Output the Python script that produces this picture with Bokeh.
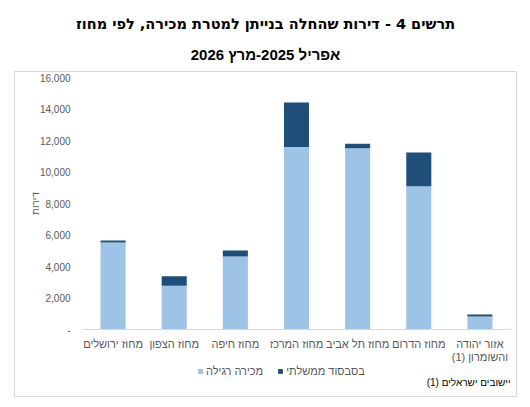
import math
from bokeh.plotting import figure
from bokeh.models import Range1d, Label, Legend, LegendItem, Title
from bokeh.core.properties import value
from bokeh.embed import file_html
from bokeh.resources import INLINE

# ---- data ----
categories = ["מחוז ירושלים", "מחוז הצפון", "מחוז חיפה", "מחוז המרכז",
              "מחוז תל אביב", "מחוז הדרום", "אזור יהודה והשומרון (1)"]
category_labels = ["מחוז ירושלים", "מחוז הצפון", "מחוז חיפה", "מחוז המרכז",
                   "מחוז תל אביב", "מחוז הדרום", "אזור יהודה\n\u200fוהשומרון (1)\u200f"]
regular_sale = [5520, 2770, 4640, 11580, 11510, 9100, 830]
gov_subsidy = [130, 615, 375, 2830, 280, 2140, 120]
series_names = ["מכירה רגילה", "בסבסוד ממשלתי"]
y_ticks = [0, 2000, 4000, 6000, 8000, 10000, 12000, 14000, 16000]
y_tick_labels = ["-", "2,000", "4,000", "6,000", "8,000", "10,000", "12,000", "14,000", "16,000"]
title_line1 = "תרשים 4 - דירות שהחלה בנייתן למטרת מכירה, לפי מחוז"
title_line2 = "אפריל 2025-מרץ 2026"
y_title = "דירות"
footnote = "\u200fיישובים ישראלים (1)\u200f"

LIGHT = "#9dc3e6"
DARK = "#1f4e79"
GRAY = "#595959"
EDGE = "#d9d9d9"
FONT = "Liberation Sans"

# ---- layout (pixels) ----
W, H = 530, 407
BOX_L, BOX_R, BOX_T, BOX_B = 14, 516, 71, 396     # bordered chart box (= frame)
PA_L, PA_R, PA_T, PA_B = 82, 510, 77, 329         # plot area inside the box
n = len(categories)
YMAX = 16000
slot = (PA_R - PA_L) / n
ppu = (PA_B - PA_T) / YMAX
x_range = Range1d((BOX_L - PA_L) / slot, (BOX_R - PA_L) / slot)
y_range = Range1d(-(BOX_B - PA_B) / ppu, (PA_B - BOX_T) / ppu)

p = figure(width=W, height=H, output_backend="svg", toolbar_location=None,
           x_range=x_range, y_range=y_range, x_axis_type=None, y_axis_type=None)
p.min_border_left = BOX_L
p.min_border_right = W - BOX_R
p.min_border_top = BOX_T
p.min_border_bottom = H - BOX_B
p.outline_line_color = EDGE
p.outline_line_width = 1
p.grid.visible = False
p.background_fill_color = "white"
p.border_fill_color = "white"

xs = [i + 0.5 for i in range(n)]
src = {"x": xs, "reg": regular_sale, "gov": gov_subsidy}
rs = p.vbar_stack(["reg", "gov"], x="x", width=0.41, source=src,
                  color=[LIGHT, DARK], line_color=None)

# category axis line
p.segment(x0=[0], y0=[0], x1=[n], y1=[0], line_color=EDGE, line_width=1)

# y tick labels
p.text(x=[0] * len(y_ticks), y=y_ticks, text=y_tick_labels, x_offset=-12,
       text_align="right", text_baseline="middle", text_font=value(FONT),
       text_font_size="10px", text_color=GRAY)
# y axis title
p.text(x=[0], y=[YMAX / 2], text=[y_title], x_offset=-(PA_L - 35), angle=math.pi / 2,
       text_align="center", text_baseline="middle", text_font=value(FONT),
       text_font_size="10px", text_color=GRAY)
# category labels
p.text(x=xs, y=[0] * n, text=category_labels, y_offset=8,
       text_align="center", text_baseline="top", text_font=value(FONT),
       text_font_size="11px", text_color=GRAY, text_line_height=1.1)

# legend
legend = Legend(items=[LegendItem(label=series_names[0], renderers=[rs[0]]),
                       LegendItem(label=series_names[1], renderers=[rs[1]])],
                orientation="horizontal", location=(197 - BOX_L, BOX_B - 377),
                glyph_width=6, glyph_height=6, label_height=12, label_standoff=3,
                spacing=14, padding=0, margin=0, border_line_color=None,
                background_fill_alpha=0, label_text_font=FONT,
                label_text_font_size="11px", label_text_color=GRAY,
                label_text_baseline="middle")
p.add_layout(legend)

# footnote
p.add_layout(Label(x=510 - BOX_L, y=BOX_B - 382, x_units="screen", y_units="screen",
                   text=footnote, text_align="right", text_baseline="middle",
                   text_font=FONT, text_font_size="10px", text_color="black"))

# titles (first added sits closest to the chart)
p.add_layout(Title(text=title_line2, align="center", text_font=FONT, text_font_size="15px",
                   text_font_style="bold", text_color="black", standoff=18), "above")
p.add_layout(Title(text=title_line1, align="center", text_font="DejaVu Sans", text_font_size="14.5px",
                   text_font_style="bold", text_color="black", standoff=6), "above")

open("out.html", "w").write(file_html(p, INLINE))
